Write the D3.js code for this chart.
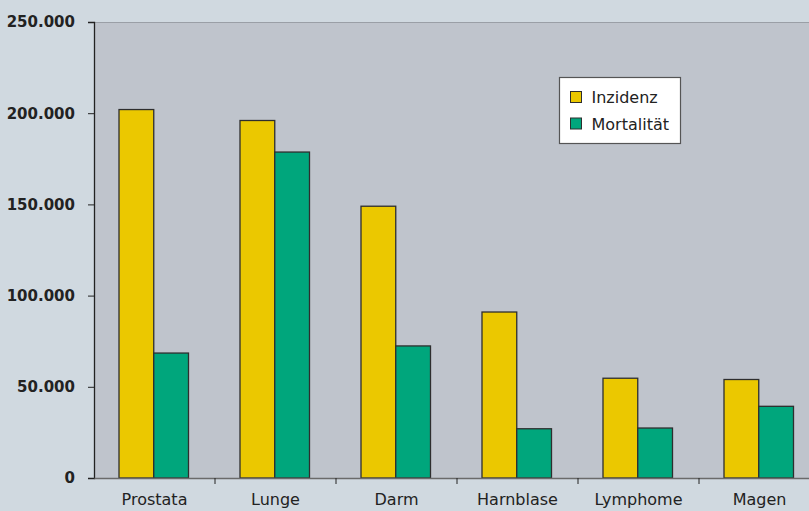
<!DOCTYPE html>
<html>
<head>
<meta charset="utf-8">
<script src="https://cdn.jsdelivr.net/npm/d3@7"></script>
<style>
  html, body { margin: 0; padding: 0; background: #d0d9e0; }
  #chart { width: 809px; height: 511px; overflow: hidden; }
</style>
</head>
<body>
<div id="chart"></div>
<script>
// data
const categories = ["Prostata", "Lunge", "Darm", "Harnblase", "Lymphome", "Magen"];
const seriesNames = ["Inzidenz", "Mortalität"];
const inzidenz = [202000, 196000, 149000, 91000, 54700, 54000];
const mortalitaet = [68500, 178700, 72400, 27000, 27400, 39300];
const yTicks = [0, 50000, 100000, 150000, 200000, 250000];
const yTickLabels = ["0", "50.000", "100.000", "150.000", "200.000", "250.000"];

const colors = ["#ebc800", "#00a67c"];

const width = 809, height = 511;
const plotLeft = 94, plotTop = 22, plotBottom = 478;
const plotRight = 820; // plot runs past the right edge in the original

const svg = d3.select("#chart")
    .append("svg")
    .attr("width", width)
    .attr("height", height);

// plot area
svg.append("rect")
    .attr("x", plotLeft)
    .attr("y", plotTop)
    .attr("width", plotRight - plotLeft)
    .attr("height", plotBottom - plotTop)
    .attr("fill", "#bfc4cc");

svg.append("line")
    .attr("x1", plotLeft).attr("x2", plotRight)
    .attr("y1", plotTop + 0.5).attr("y2", plotTop + 0.5)
    .attr("stroke", "#9a9fa6");

const x = d3.scaleBand()
    .domain(categories)
    .range([plotLeft, plotRight]);

const xInner = d3.scaleBand()
    .domain(seriesNames)
    .range([0, 69.5]);

const y = d3.scaleLinear()
    .domain([0, 250000])
    .range([plotBottom, plotTop]);

const rows = categories.map(function(c, i) {
    return { cat: c, values: [inzidenz[i], mortalitaet[i]] };
});

const groups = svg.selectAll("g.cat")
    .data(rows)
    .enter()
    .append("g")
        .attr("class", "cat")
        .attr("transform", function(d) {
            return "translate(" + (x(d.cat) + x.bandwidth() / 2 - 35.5) + ",0)";
        });

groups.selectAll("rect")
    .data(function(d) { return d.values.map(function(v, j) { return { name: seriesNames[j], v: v, j: j }; }); })
    .enter()
    .append("rect")
        .attr("x", function(d) { return xInner(d.name); })
        .attr("y", function(d) { return y(d.v); })
        .attr("width", xInner.bandwidth())
        .attr("height", function(d) { return plotBottom - y(d.v); })
        .attr("fill", function(d) { return colors[d.j]; })
        .attr("stroke", "#2e2e2e")
        .attr("stroke-width", 1.3);

// y axis
const yAxis = d3.axisLeft(y)
    .tickValues(yTicks)
    .tickFormat(function(d, i) { return yTickLabels[i]; })
    .tickSize(6)
    .tickPadding(13);

const gy = svg.append("g")
    .attr("transform", "translate(" + plotLeft + ",0)")
    .call(yAxis);
gy.select(".domain").attr("stroke", "#222").attr("stroke-width", 1.3);
gy.selectAll(".tick line").attr("stroke", "#222");
gy.selectAll(".tick text")
    .attr("font-family", "DejaVu Sans")
    .attr("font-weight", "bold")
    .attr("font-size", "15px")
    .attr("fill", "#222");

// x axis
const xAxis = d3.axisBottom(x)
    .tickSize(0)
    .tickPadding(16);

const gx = svg.append("g")
    .attr("transform", "translate(0," + plotBottom + ")")
    .call(xAxis);
gx.select(".domain").attr("stroke", "#6a6a6a").attr("stroke-width", 1.5);
gx.selectAll(".tick text")
    .attr("font-family", "DejaVu Sans")
    .attr("font-size", "16px")
    .attr("fill", "#222");

// separators between categories
svg.selectAll("line.sep")
    .data(categories.slice(1))
    .enter()
    .append("line")
        .attr("class", "sep")
        .attr("x1", function(d) { return x(d); })
        .attr("x2", function(d) { return x(d); })
        .attr("y1", plotBottom)
        .attr("y2", plotBottom + 6)
        .attr("stroke", "#222");

// legend
const legend = svg.append("g")
    .attr("transform", "translate(559.5,77.5)");

legend.append("rect")
    .attr("width", 121)
    .attr("height", 66)
    .attr("fill", "#fff")
    .attr("stroke", "#555")
    .attr("stroke-width", 1.2);

seriesNames.forEach(function(name, i) {
    legend.append("rect")
        .attr("x", 11)
        .attr("y", 14 + i * 26.5)
        .attr("width", 11)
        .attr("height", 11)
        .attr("fill", colors[i])
        .attr("stroke", "#2e2e2e");
    legend.append("text")
        .attr("x", 32)
        .attr("y", 25.5 + i * 26.5)
        .attr("font-family", "DejaVu Sans")
        .attr("font-size", "16px")
        .attr("fill", "#222")
        .text(name);
});
</script>
</body>
</html>
